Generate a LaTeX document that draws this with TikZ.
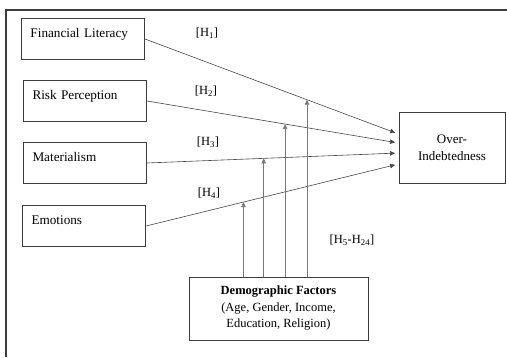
\documentclass[tikz,border=0pt]{standalone}
\usepackage{fontspec}
\setmainfont{Liberation Serif}
\usetikzlibrary{arrows.meta}
\definecolor{framegray}{RGB}{60, 60, 60}
\definecolor{linegray}{RGB}{70, 70, 70}
\definecolor{modgray}{RGB}{120, 120, 120}

\tikzset{
  factor/.style={draw=framegray, line width=1pt, anchor=north west, inner xsep=9pt,
    inner ysep=0pt, text width=105pt, text height=19pt, text depth=22pt, align=left,
    font=\fontsize{13.2}{16}\selectfont},
  outcome/.style={draw=framegray, line width=1pt, align=center},
  hyp/.style={font=\fontsize{12.5}{15}\selectfont},
  path/.style={linegray, line width=0.6pt, -{Triangle[length=5pt,width=4.5pt]}, shorten >=3.5pt},
  moderate/.style={modgray, line width=0.8pt, -{Triangle[length=5pt,width=4.5pt]}, draw}
}

\begin{document}
\begin{tikzpicture}[x=1pt, y=1pt, font=\fontsize{12.5}{16.5}\selectfont]
    \useasboundingbox (0,0) rectangle (507,357);

    % Outer frame (cut off at right and bottom)
    \draw[framegray, line width=2pt] (6,0) |- (507,347);

    % Predictor boxes
    \node[factor] (FL) at (21,339) {Financial Literacy};
    \node[factor] (RP) at (23,277) {Risk Perception};
    \node[factor] (MA) at (23,215) {Materialism};
    \node[factor] (EM) at (22,152) {Emotions};

    % Outcome
    \node[outcome, minimum width=106pt, minimum height=70pt, font=\fontsize{13}{16.5}\selectfont]
        (OI) at (452,209) {Over-\\Indebtedness};

    % Moderators
    \node[outcome, minimum width=179pt, minimum height=63pt] (DF) at (278.5,48.5)
        {\textbf{Demographic Factors}\\(Age, Gender, Income,\\Education, Religion)};

    % Arrow ends on the outcome box
    \coordinate (in1) at ([yshift=14pt]OI.west);
    \coordinate (in2) at ([yshift=5pt]OI.west);
    \coordinate (in3) at ([yshift=-5pt]OI.west);
    \coordinate (in4) at ([yshift=-16pt]OI.west);

    % Direct effects
    \draw[path] (FL.east) -- coordinate[pos=0.639] (m1) (in1);
    \draw[path] (RP.east) -- coordinate[pos=0.549] (m2) (in2);
    \draw[path] (MA.east) -- coordinate[pos=0.464] (m3) (in3);
    \draw[path] (EM.east) -- coordinate[pos=0.386] (m4) (in4);

    % Moderating effects
    \foreach \m in {m1,m2,m3,m4} {
        \draw[moderate] (DF.north -| \m) -- (\m);
    }

    % Hypothesis labels
    \node[hyp] (h1) at (207,324) {[H\textsubscript{1}]};
    \node[hyp] (h2) at (206,266) {[H\textsubscript{2}]};
    \node[hyp] (h3) at (208,215) {[H\textsubscript{3}]};
    \node[hyp] (h4) at (209,164) {[H\textsubscript{4}]};
    \node[hyp] (h5) at (352,117) {[H\textsubscript{5}-H\textsubscript{24}]};
\end{tikzpicture}
\end{document}
